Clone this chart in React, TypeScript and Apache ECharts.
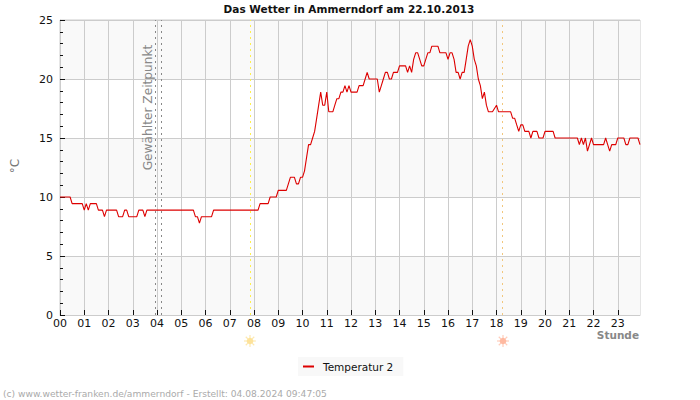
import React, { useEffect, useRef } from "react";
import * as echarts from "echarts";

const FONT = "DejaVu Sans";

// Time of each reading, in minutes after midnight.
const minutes = [
  0, 25, 30, 55, 60, 65, 70, 75, 90, 95, 105, 110, 115, 140, 145, 155, 160, 165, 170, 190,
  195, 205, 210, 215, 330, 335, 340, 345, 350, 375, 380, 490, 495, 515, 520, 535, 540, 560, 565, 570,
  580, 585, 590, 595, 600, 605, 610, 615, 620, 625, 630, 635, 640, 645, 650, 655, 660, 665, 675, 680,
  685, 690, 695, 700, 705, 710, 715, 720, 735, 740, 750, 755, 760, 765, 785, 790, 795, 800, 805, 810,
  815, 820, 825, 835, 840, 855, 860, 865, 870, 875, 880, 885, 890, 895, 900, 905, 910, 915, 920, 935,
  940, 955, 960, 965, 970, 975, 980, 985, 990, 995, 1000, 1005, 1010, 1015, 1020, 1025, 1030, 1035, 1040, 1045,
  1050, 1055, 1060, 1070, 1080, 1085, 1115, 1120, 1125, 1130, 1135, 1140, 1145, 1150, 1160, 1165, 1170, 1180, 1185, 1195,
  1200, 1220, 1225, 1280, 1285, 1290, 1295, 1300, 1305, 1310, 1315, 1320, 1345, 1350, 1355, 1360, 1365, 1375, 1380, 1395,
  1400, 1405, 1410, 1430, 1435,
];

// Temperature 2 in degrees Celsius at each of those times.
const temperature = [
  10, 10, 9.44, 9.44, 8.89, 9.44, 8.89, 9.44, 9.44, 8.89, 8.89, 8.33, 8.89, 8.89, 8.33, 8.33, 8.89, 8.89, 8.33, 8.33,
  8.89, 8.89, 8.33, 8.89, 8.89, 8.33, 8.33, 7.78, 8.33, 8.33, 8.89, 8.89, 9.44, 9.44, 10, 10, 10.56, 10.56, 11.11, 11.67,
  11.67, 11.11, 11.11, 11.67, 11.67, 12.22, 13.33, 14.44, 14.44, 15, 15.56, 16.67, 17.78, 18.89, 17.78, 17.78, 18.89, 17.22, 17.22, 17.78,
  18.33, 18.33, 18.89, 18.89, 19.44, 18.89, 19.44, 18.89, 18.89, 19.44, 19.44, 20, 20.56, 20, 20, 18.89, 19.44, 20, 20.56, 20.56,
  20, 20, 20.56, 20.56, 21.11, 21.11, 20.56, 21.11, 20.56, 21.67, 22.22, 22.22, 21.67, 21.11, 21.11, 21.67, 22.22, 22.22, 22.78, 22.78,
  22.22, 22.22, 21.67, 22.22, 22.22, 21.67, 20.56, 20.56, 20, 20.56, 20.56, 21.67, 22.78, 23.33, 22.78, 21.67, 21.11, 20, 19.44, 18.33,
  18.89, 17.78, 17.22, 17.22, 17.78, 17.22, 17.22, 16.67, 16.67, 16.11, 15.56, 16.11, 16.11, 15.56, 15.56, 15, 15.56, 15.56, 15, 15,
  15.56, 15.56, 15, 15, 14.44, 15, 14.44, 15, 13.89, 14.44, 15, 14.44, 14.44, 15, 14.44, 13.89, 14.44, 14.44, 15, 15,
  14.44, 14.44, 15, 15, 14.44,
];

const hourTicks = [
  0, 60, 120, 180, 240, 300, 360, 420, 480, 540, 600, 660, 720, 780, 840, 900, 960, 1020, 1080, 1140, 1200, 1260, 1320, 1380,
];

const selectedTimes = [235, 250];
const sunrise = 470;
const sunset = 1095;

const TITLE = "Das Wetter in Ammerndorf am 22.10.2013";
const SERIES_NAME = "Temperatur 2";
const CREDIT = "(c) www.wetter-franken.de/ammerndorf - Erstellt: 04.08.2024 09:47:05";

// A small sun: a filled disc with eight short rays around it.
function sun(cx: number, cy: number, disc: string, ray: string) {
  const rays = [0, 1, 2, 3, 4, 5, 6, 7].map((i) => {
    const a = (i * Math.PI) / 4;
    return {
      type: "line",
      z: 20,
      shape: {
        x1: cx + Math.cos(a) * 3,
        y1: cy + Math.sin(a) * 3,
        x2: cx + Math.cos(a) * 6,
        y2: cy + Math.sin(a) * 6,
      },
      style: { stroke: ray, lineWidth: 1.2 },
      silent: true,
    };
  });
  return {
    type: "group",
    children: [
      ...rays,
      { type: "circle", z: 21, shape: { cx, cy, r: 3.3 }, style: { fill: disc }, silent: true },
    ],
  };
}

export default function App() {
  const ref = useRef<HTMLDivElement>(null);

  useEffect(() => {
    const chart = echarts.init(ref.current!, undefined, { renderer: "svg" });
    const dotted = (value: number, color: string) => ({
      xAxis: value,
      lineStyle: { color, width: 1, type: [2, 4] as number[] },
    });
    chart.setOption({
      animation: false,
      backgroundColor: "#ffffff",
      textStyle: { fontFamily: FONT },
      title: {
        text: TITLE,
        left: 349,
        top: 3,
        padding: 0,
        textAlign: "center",
        textStyle: { fontFamily: FONT, fontSize: 10.5, fontWeight: "bold", color: "#111111" },
      },
      grid: {
        left: 60,
        right: 60,
        top: 20,
        bottom: 85,
        show: true,
        borderColor: "#cccccc",
        borderWidth: 1,
        backgroundColor: "transparent",
      },
      legend: {
        left: 298,
        top: 357,
        padding: [4, 10, 4, 5],
        backgroundColor: "#f8f8f8",
        icon: "rect",
        itemWidth: 11,
        itemHeight: 2,
        itemGap: 0,
        textStyle: { fontFamily: FONT, fontSize: 10.5, color: "#111111", padding: [0, 0, 0, 4] },
        data: [SERIES_NAME],
      },
      xAxis: {
        type: "value",
        min: 0,
        max: 1435,
        interval: 60,
        axisLine: { show: true, onZero: false, lineStyle: { color: "#cccccc", width: 1 } },
        axisTick: {
          show: true,
          inside: true,
          length: 5,
          lineStyle: { color: "#111111", width: 1 },
          customValues: hourTicks,
        },
        axisLabel: {
          customValues: hourTicks,
          margin: 3,
          fontFamily: FONT,
          fontSize: 11,
          color: "#111111",
          formatter: (v: number) => String(Math.round(v / 60)).padStart(2, "0"),
        },
        splitLine: { show: true, lineStyle: { color: "#cccccc", width: 1 } },
      },
      yAxis: {
        type: "value",
        min: 0,
        max: 25,
        interval: 5,
        axisLine: { show: true, lineStyle: { color: "#cccccc", width: 1 } },
        axisTick: { show: true, inside: true, length: 5, lineStyle: { color: "#111111", width: 1 } },
        minorTick: { show: true, splitNumber: 5, length: 3, lineStyle: { color: "#111111", width: 1 } },
        axisLabel: { margin: 7, fontFamily: FONT, fontSize: 11, color: "#111111" },
        splitLine: { show: true, lineStyle: { color: "#cccccc", width: 1 } },
        splitArea: { show: true, areaStyle: { color: ["#f9f9f9", "#ffffff"] } },
      },
      series: [
        {
          name: SERIES_NAME,
          type: "line",
          data: minutes.map((m, i) => [m, temperature[i]]),
          showSymbol: false,
          clip: true,
          z: 5,
          itemStyle: { color: "#dd0000" },
          lineStyle: { color: "#dd0000", width: 1.1 },
          markLine: {
            silent: true,
            symbol: "none",
            animation: false,
            label: { show: false },
            data: [
              ...selectedTimes.map((t) => dotted(t, "#888888")),
              dotted(sunrise, "#fff04a"),
              dotted(sunset, "#f2c77e"),
            ],
          },
        },
      ],
      graphic: [
        {
          type: "text",
          x: 148,
          y: 107.5,
          z: 20,
          rotation: Math.PI / 2,
          silent: true,
          style: {
            text: "Gewählter Zeitpunkt",
            fontFamily: FONT,
            fontSize: 12.2,
            fill: "#888888",
            align: "center",
            verticalAlign: "middle",
          },
        },
        {
          type: "text",
          x: 15,
          y: 166,
          z: 20,
          rotation: Math.PI / 2,
          silent: true,
          style: {
            text: "°C",
            fontFamily: FONT,
            fontSize: 12,
            fill: "#777777",
            align: "center",
            verticalAlign: "middle",
          },
        },
        {
          type: "text",
          x: 639,
          y: 335,
          z: 20,
          silent: true,
          style: {
            text: "Stunde",
            fontFamily: FONT,
            fontSize: 10.5,
            fontWeight: "bold",
            fill: "#888888",
            align: "right",
            verticalAlign: "middle",
          },
        },
        {
          type: "text",
          x: 3,
          y: 393.5,
          z: 20,
          silent: true,
          style: {
            text: CREDIT,
            fontFamily: FONT,
            fontSize: 9.15,
            fill: "#aaaaaa",
            align: "left",
            verticalAlign: "middle",
          },
        },
        sun(250, 341, "#fde29a", "#fde9b0"),
        sun(503, 341, "#ffb9a0", "#ffcdbb"),
      ],
    });
    return () => chart.dispose();
  }, []);

  return <div ref={ref} style={{ position: "fixed", left: 0, top: 0, width: 700, height: 400 }} />;
}
